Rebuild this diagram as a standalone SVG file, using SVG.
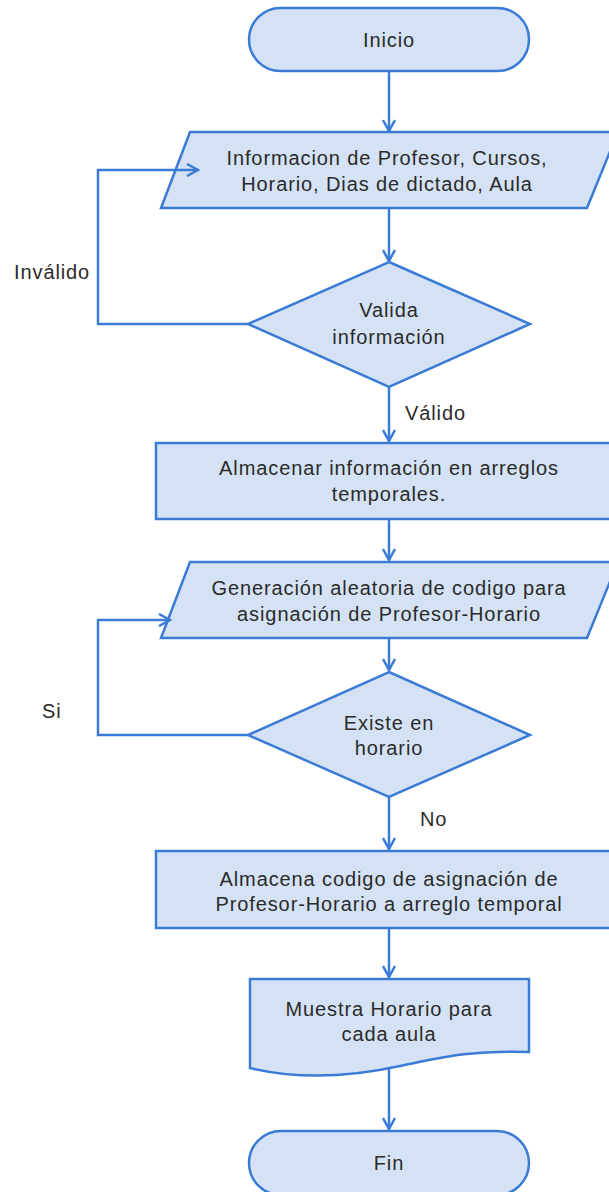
<svg xmlns="http://www.w3.org/2000/svg" width="609" height="1192" viewBox="0 0 609 1192">
<defs>
<marker id="arr" markerWidth="14" markerHeight="14" refX="12" refY="7" orient="auto" markerUnits="userSpaceOnUse">
<path d="M1,1 L12,7 L1,13" fill="none" stroke="#3a7bd5" stroke-width="2.5"/>
</marker>
<style>
.shape{fill:#d5e2f5;stroke:#3a7bd5;stroke-width:2.5}
.edge{fill:none;stroke:#3a7bd5;stroke-width:2.5}
text{font-family:"Liberation Sans",Arial,sans-serif;font-size:20px;fill:#2b2b2b;letter-spacing:0.9px}
.c{text-anchor:middle}
</style>
</defs>
<rect width="609" height="1192" fill="#fff"/>
<g id="inicio">
<rect class="shape" x="249" y="8" width="280" height="63" rx="31.5"/>
<text class="c" x="389" y="47">Inicio</text>
</g>
<g id="entrada">
<path class="shape" d="M190,132 H618 L587,208 H161 Z"/>
<text class="c" x="387" y="165">Informacion de Profesor, Cursos,</text>
<text class="c" x="387" y="191">Horario, Dias de dictado, Aula</text>
</g>
<g id="valida">
<path class="shape" d="M389,262 L530,324 L389,387 L248,324 Z"/>
<text class="c" x="389" y="317">Valida</text>
<text class="c" x="389" y="344">información</text>
</g>
<g id="almacenar">
<rect class="shape" x="156" y="443" width="460" height="76"/>
<text class="c" x="389" y="475">Almacenar información en arreglos</text>
<text class="c" x="389" y="501">temporales.</text>
</g>
<g id="generacion">
<path class="shape" d="M190,562 H618 L587,638 H161 Z"/>
<text class="c" x="389" y="595">Generación aleatoria de codigo para</text>
<text class="c" x="389" y="621">asignación de Profesor-Horario</text>
</g>
<g id="existe">
<path class="shape" d="M389,672 L530,735 L389,797 L248,735 Z"/>
<text class="c" x="389" y="730">Existe en</text>
<text class="c" x="389" y="755">horario</text>
</g>
<g id="almacena">
<rect class="shape" x="156" y="851" width="460" height="77"/>
<text class="c" x="389" y="886">Almacena codigo de asignación de</text>
<text class="c" x="389" y="911">Profesor-Horario a arreglo temporal</text>
</g>
<g id="muestra">
<path class="shape" d="M250,979 H529 V1052 C470,1050 440,1058 400,1066 C350,1077 300,1080 250,1068 Z"/>
<text class="c" x="389" y="1016">Muestra Horario para</text>
<text class="c" x="389" y="1041">cada aula</text>
</g>
<g id="fin">
<rect class="shape" x="249" y="1131" width="280" height="64" rx="32"/>
<text class="c" x="389" y="1170">Fin</text>
</g>
<g id="edges">
<path class="edge" d="M389,71 V131" marker-end="url(#arr)"/>
<path class="edge" d="M389,208 V261" marker-end="url(#arr)"/>
<path class="edge" d="M248,324 H98 V170 H198" marker-end="url(#arr)"/>
<path class="edge" d="M389,387 V441" marker-end="url(#arr)"/>
<path class="edge" d="M389,519 V560" marker-end="url(#arr)"/>
<path class="edge" d="M389,638 V670" marker-end="url(#arr)"/>
<path class="edge" d="M248,735 H98 V620 H170" marker-end="url(#arr)"/>
<path class="edge" d="M389,797 V849" marker-end="url(#arr)"/>
<path class="edge" d="M389,928 V977" marker-end="url(#arr)"/>
<path class="edge" d="M389,1068 V1129" marker-end="url(#arr)"/>
<text x="14" y="279">Inválido</text>
<text x="405" y="420">Válido</text>
<text x="42" y="718">Si</text>
<text x="420" y="826">No</text>
</g>
</svg>
